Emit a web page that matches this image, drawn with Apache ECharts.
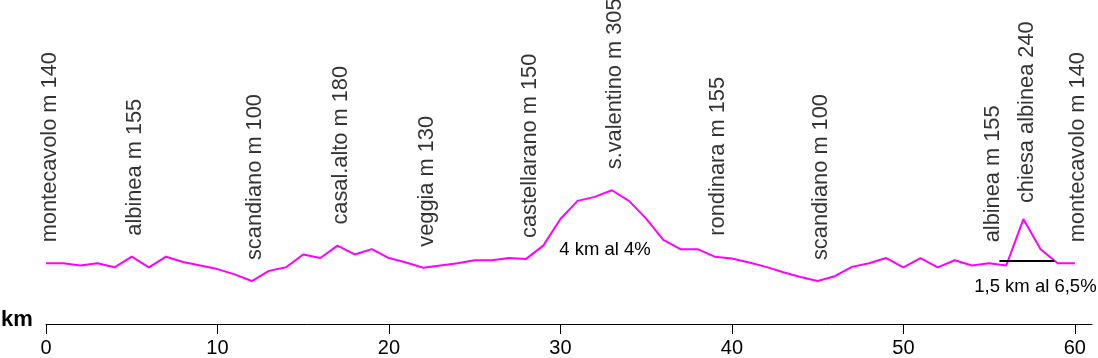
<!DOCTYPE html>
<html>
<head>
<meta charset="utf-8">
<script src="https://cdn.jsdelivr.net/npm/echarts@6/dist/echarts.min.js"></script>
<style>
  html, body { margin: 0; padding: 0; background: #fff; }
  #chart { width: 1098px; height: 358px; }
</style>
</head>
<body>
<div id="chart"></div>
<script>
// distanza (km) e quota (m) del percorso
const km = [0, 1, 2, 3, 4, 5, 6, 7, 8, 9, 10, 11, 12, 13, 14, 15, 16, 17, 18, 19, 20,
  21, 22, 23, 24, 25, 26, 27, 28, 29, 30, 31, 32, 33, 34, 35, 36, 37, 38, 39, 40,
  41, 42, 43, 44, 45, 46, 47, 48, 49, 50, 51, 52, 53, 54, 55, 56, 57, 58, 59, 60]
const elevation = [140, 140, 135, 140, 131, 155, 131, 155, 143, 135, 127, 115, 100, 123, 131, 160, 152, 180, 160, 172, 152,
  142, 130, 135, 140, 147, 147, 152, 150, 180, 240, 281, 290, 305, 281, 241, 193, 172, 172, 155, 151,
  142, 132, 120, 109, 100, 111, 132, 140, 152, 131, 152, 131, 147, 135, 140, 135, 240, 172, 140, 140]

// località
const placeNames = ['montecavolo m 140', 'albinea m 155', 'scandiano m 100', 'casal.alto m 180',
  'veggia m 130', 'castellarano m 150', 's.valentino m 305', 'rondinara m 155',
  'scandiano m 100', 'albinea m 155', 'chiesa albinea 240', 'montecavolo m 140']
const placeKm = [0, 5, 12, 17, 22, 28, 33, 39, 45, 55, 57, 60]

// salite
const noteTexts = ['4 km al 4%', '1,5 km al 6,5%']
const noteKm = [32.6, 57.7]
const noteM = [170, 87]
const climbKm = [55.6, 58.8]
const climbM = 145

const xTicks = [0, 10, 20, 30, 40, 50, 60]

const chart = echarts.init(document.getElementById('chart'))
const font = 'Liberation Sans, Arial, sans-serif'

chart.setOption({
  animation: false,
  grid: { left: 46, right: 6, top: 14, bottom: 31 },
  xAxis: {
    type: 'value',
    min: 0,
    max: 61,
    splitLine: { show: false },
    axisLine: { lineStyle: { color: '#000', width: 1 } },
    axisTick: { length: 10, lineStyle: { color: '#000' }, customValues: xTicks },
    axisLabel: { customValues: xTicks, color: '#000', fontSize: 20, fontFamily: font, margin: 14 }
  },
  yAxis: {
    type: 'value',
    min: 3,
    max: 703,
    show: false
  },
  graphic: [
    {
      type: 'text',
      x: 1,
      y: 331,
      style: { text: 'km', font: 'bold 22px ' + font, fill: '#000', verticalAlign: 'bottom' }
    }
  ],
  series: [
    {
      type: 'line',
      data: km.map((k, i) => [k, elevation[i]]),
      symbol: 'none',
      lineStyle: { color: '#ff00ff', width: 2 },
      markLine: {
        silent: true,
        symbol: 'none',
        label: { show: false },
        lineStyle: { color: '#000', width: 2, type: 'solid' },
        data: [[{ coord: [climbKm[0], climbM] }, { coord: [climbKm[1], climbM] }]]
      },
      markPoint: {
        symbol: 'circle',
        symbolSize: 0,
        label: {
          position: 'inside',
          color: '#000',
          fontSize: 18.5,
          fontFamily: font,
          formatter: p => p.name
        },
        data: noteTexts.map((t, i) => ({ name: t, coord: [noteKm[i], noteM[i]] }))
      }
    },
    {
      type: 'scatter',
      symbolSize: 0,
      silent: true,
      data: placeNames.map((n, i) => ({
        name: n,
        value: [placeKm[i], elevation[km.indexOf(placeKm[i])]],
        label: { distance: n.indexOf('chiesa') === 0 ? 16 : 21 }
      })),
      label: {
        show: true,
        position: 'top',
        rotate: 90,
        align: 'left',
        verticalAlign: 'middle',
        // offset is in the rotated frame: [0, y] moves the text sideways
        offset: [0, 3.5],
        color: '#000',
        fontSize: 21.8,
        fontFamily: font,
        formatter: p => p.name
      }
    }
  ]
})
</script>
</body>
</html>
